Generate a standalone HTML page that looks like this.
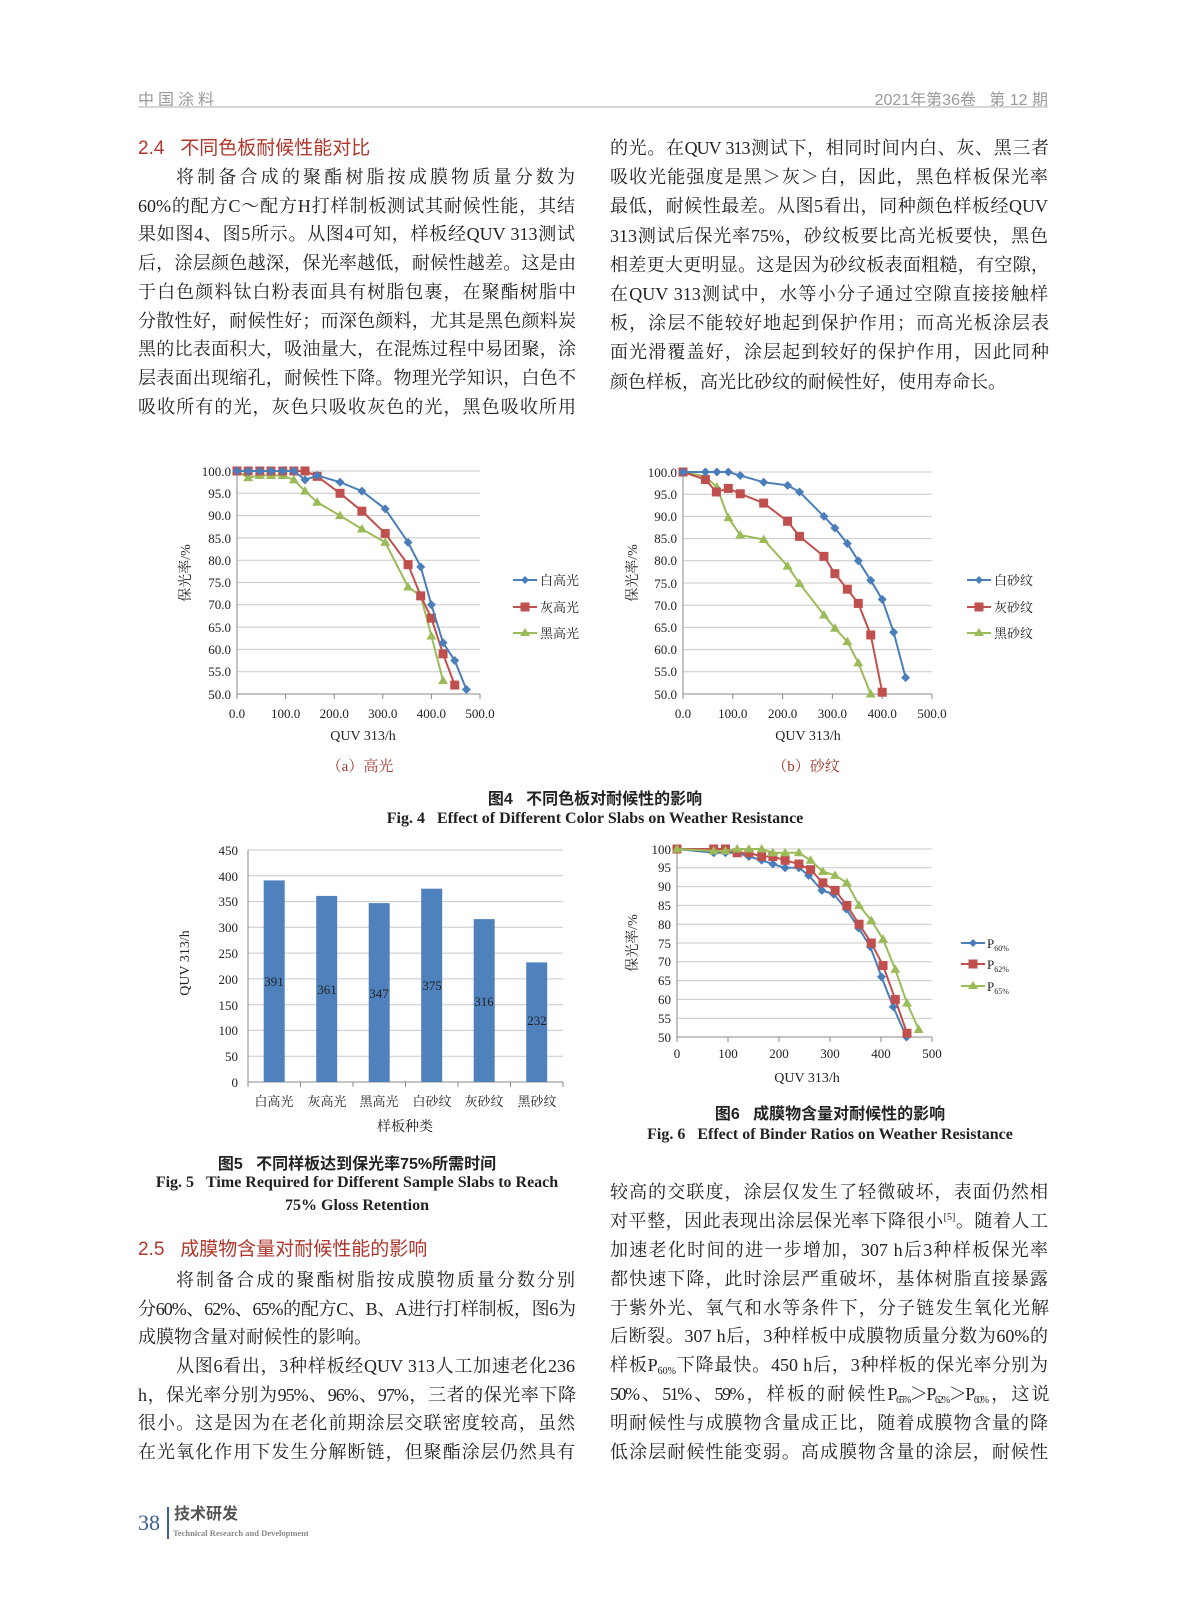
<!DOCTYPE html>
<html><head><meta charset="utf-8">
<style>
body{margin:0;background:#fff;}
#pg{position:relative;width:1187px;height:1600px;overflow:hidden;background:#fff;font-family:"Liberation Serif","Noto Serif CJK SC",serif;color:#222;}
.l{position:absolute;height:28px;line-height:28px;font-size:18px;white-space:nowrap;text-align:justify;text-align-last:justify;}
.L{left:138px;width:437px;}
.R{left:610px;width:438px;}
.nj{text-align-last:left;}
.t{letter-spacing:-1px;}
.h{position:absolute;font-family:"Liberation Sans","Noto Sans CJK SC",sans-serif;color:#b0362b;font-size:19px;line-height:24px;white-space:nowrap;}
.c{position:absolute;white-space:nowrap;transform:translateX(-50%);}
.cap{font-family:"Liberation Sans","Noto Sans CJK SC",sans-serif;font-weight:bold;font-size:16px;}
.capE{font-family:"Liberation Serif",serif;font-weight:bold;font-size:16px;}
sub{font-size:10px;vertical-align:-3px;line-height:0}
svg text{font-family:"Liberation Serif","Noto Serif CJK SC",serif;fill:#222;}
</style></head><body><div id="pg">
<div style="position:absolute;left:138px;top:86px;font-family:'Liberation Sans','Noto Sans CJK SC',sans-serif;font-size:16px;color:#999;letter-spacing:4px;">中国涂料</div>
<div style="position:absolute;right:139px;top:86px;font-family:'Liberation Sans','Noto Sans CJK SC',sans-serif;font-size:16px;color:#999;">2021年第36卷&nbsp;&nbsp;&nbsp;第 12 期</div>
<div style="position:absolute;left:138px;top:106px;width:910px;height:2px;background:#d6d6d6;"></div>

<div class="h" style="left:138px;top:137px;">2.4&nbsp;&nbsp;&nbsp;不同色板耐候性能对比</div>
<div class="l L" style="top:163px;padding-left:38px;width:399px;">将制备合成的聚酯树脂按成膜物质量分数为</div>
<div class="l L" style="top:192px;">60%的配方C～配方H打样制板测试其耐候性能，其结</div>
<div class="l L" style="top:220px;">果如图4、图5所示。从图4可知，样板经QUV 313测试</div>
<div class="l L t" style="top:249px;">后，涂层颜色越深，保光率越低，耐候性越差。这是由</div>
<div class="l L t" style="top:278px;">于白色颜料钛白粉表面具有树脂包裹，在聚酯树脂中</div>
<div class="l L t" style="top:307px;">分散性好，耐候性好；而深色颜料，尤其是黑色颜料炭</div>
<div class="l L t" style="top:335px;">黑的比表面积大，吸油量大，在混炼过程中易团聚，涂</div>
<div class="l L t" style="top:364px;">层表面出现缩孔，耐候性下降。物理光学知识，白色不</div>
<div class="l L t" style="top:393px;">吸收所有的光，灰色只吸收灰色的光，黑色吸收所用</div>

<div class="l R t" style="top:134px;">的光。在QUV 313测试下，相同时间内白、灰、黑三者</div>
<div class="l R" style="top:163px;">吸收光能强度是黑＞灰＞白，因此，黑色样板保光率</div>
<div class="l R" style="top:192px;">最低，耐候性最差。从图5看出，同种颜色样板经QUV</div>
<div class="l R" style="top:222px;">313测试后保光率75%，砂纹板要比高光板要快，黑色</div>
<div class="l R t" style="top:251px;">相差更大更明显。这是因为砂纹板表面粗糙，有空隙，</div>
<div class="l R" style="top:280px;">在QUV 313测试中，水等小分子通过空隙直接接触样</div>
<div class="l R t" style="top:309px;">板，涂层不能较好地起到保护作用；而高光板涂层表</div>
<div class="l R t" style="top:338px;">面光滑覆盖好，涂层起到较好的保护作用，因此同种</div>
<div class="l R nj" style="top:368px;">颜色样板，高光比砂纹的耐候性好，使用寿命长。</div>

<svg style="position:absolute;left:0;top:0" width="1187" height="1600" id="sv">
<g stroke="#c8c8c8" stroke-width="1">
<line x1="237" x2="480" y1="471" y2="471"/><line x1="237" x2="480" y1="493.3" y2="493.3"/><line x1="237" x2="480" y1="515.6" y2="515.6"/><line x1="237" x2="480" y1="537.9" y2="537.9"/><line x1="237" x2="480" y1="560.2" y2="560.2"/><line x1="237" x2="480" y1="582.5" y2="582.5"/><line x1="237" x2="480" y1="604.8" y2="604.8"/><line x1="237" x2="480" y1="627.1" y2="627.1"/><line x1="237" x2="480" y1="649.4" y2="649.4"/><line x1="237" x2="480" y1="671.7" y2="671.7"/>
<line x1="683" x2="932" y1="472" y2="472"/><line x1="683" x2="932" y1="494.2" y2="494.2"/><line x1="683" x2="932" y1="516.4" y2="516.4"/><line x1="683" x2="932" y1="538.6" y2="538.6"/><line x1="683" x2="932" y1="560.8" y2="560.8"/><line x1="683" x2="932" y1="583" y2="583"/><line x1="683" x2="932" y1="605.2" y2="605.2"/><line x1="683" x2="932" y1="627.4" y2="627.4"/><line x1="683" x2="932" y1="649.6" y2="649.6"/><line x1="683" x2="932" y1="671.8" y2="671.8"/>
<line x1="677" x2="932" y1="849" y2="849"/><line x1="677" x2="932" y1="867.8" y2="867.8"/><line x1="677" x2="932" y1="886.6" y2="886.6"/><line x1="677" x2="932" y1="905.4" y2="905.4"/><line x1="677" x2="932" y1="924.2" y2="924.2"/><line x1="677" x2="932" y1="943" y2="943"/><line x1="677" x2="932" y1="961.8" y2="961.8"/><line x1="677" x2="932" y1="980.6" y2="980.6"/><line x1="677" x2="932" y1="999.4" y2="999.4"/><line x1="677" x2="932" y1="1018.2" y2="1018.2"/>
<line x1="248" x2="563" y1="850" y2="850"/><line x1="248" x2="563" y1="875.8" y2="875.8"/><line x1="248" x2="563" y1="901.6" y2="901.6"/><line x1="248" x2="563" y1="927.3" y2="927.3"/><line x1="248" x2="563" y1="953.1" y2="953.1"/><line x1="248" x2="563" y1="978.9" y2="978.9"/><line x1="248" x2="563" y1="1004.7" y2="1004.7"/><line x1="248" x2="563" y1="1030.4" y2="1030.4"/><line x1="248" x2="563" y1="1056.2" y2="1056.2"/>
</g>
<g stroke="#888" stroke-width="1" fill="none">
<path d="M237 694H480M237 694v5M285.6 694v5M334.2 694v5M382.8 694v5M431.4 694v5M480 694v5M237 471V694"/>
<path d="M683 694H932M683 694v5M732.8 694v5M782.6 694v5M832.4 694v5M882.2 694v5M932 694v5M683 472V694"/>
<path d="M677 1037H932M677 1037v5M728 1037v5M779 1037v5M830 1037v5M881 1037v5M932 1037v5M677 849V1037"/>
<path d="M248 1082H563M248 850V1082M248 1082v5M300.5 1082v5M353 1082v5M405.5 1082v5M458 1082v5M510.5 1082v5M563 1082v5"/>
</g>
<g id="series"></g>
<g fill="#4f81bd">
<rect x="263.7" y="880.4" width="21" height="201.6"/>
<rect x="316.2" y="895.9" width="21" height="186.1"/>
<rect x="368.7" y="903.1" width="21" height="178.9"/>
<rect x="421.2" y="888.7" width="21" height="193.3"/>
<rect x="473.7" y="919.1" width="21" height="162.9"/>
<rect x="526.2" y="962.4" width="21" height="119.6"/>
</g>
<g font-size="13" text-anchor="middle">
<text x="274" y="986">391</text><text x="327" y="994">361</text><text x="379" y="998">347</text><text x="432" y="990">375</text><text x="484" y="1006">316</text><text x="537" y="1025">232</text>
</g>
<g font-size="13" text-anchor="end">
<text x="231" y="476">100.0</text><text x="231" y="498">95.0</text><text x="231" y="520">90.0</text><text x="231" y="543">85.0</text><text x="231" y="565">80.0</text><text x="231" y="587">75.0</text><text x="231" y="609">70.0</text><text x="231" y="632">65.0</text><text x="231" y="654">60.0</text><text x="231" y="676">55.0</text><text x="231" y="699">50.0</text>
<text x="677" y="477">100.0</text><text x="677" y="499">95.0</text><text x="677" y="521">90.0</text><text x="677" y="543">85.0</text><text x="677" y="565">80.0</text><text x="677" y="588">75.0</text><text x="677" y="610">70.0</text><text x="677" y="632">65.0</text><text x="677" y="654">60.0</text><text x="677" y="676">55.0</text><text x="677" y="699">50.0</text>
<text x="671" y="854">100</text><text x="671" y="872">95</text><text x="671" y="891">90</text><text x="671" y="910">85</text><text x="671" y="929">80</text><text x="671" y="948">75</text><text x="671" y="966">70</text><text x="671" y="985">65</text><text x="671" y="1004">60</text><text x="671" y="1023">55</text><text x="671" y="1042">50</text>
<text x="238" y="855">450</text><text x="238" y="881">400</text><text x="238" y="906">350</text><text x="238" y="932">300</text><text x="238" y="958">250</text><text x="238" y="984">200</text><text x="238" y="1010">150</text><text x="238" y="1035">100</text><text x="238" y="1061">50</text><text x="238" y="1087">0</text>
</g>
<g font-size="13" text-anchor="middle">
<text x="237" y="718">0.0</text><text x="285.6" y="718">100.0</text><text x="334.2" y="718">200.0</text><text x="382.8" y="718">300.0</text><text x="431.4" y="718">400.0</text><text x="480" y="718">500.0</text>
<text x="683" y="718">0.0</text><text x="732.8" y="718">100.0</text><text x="782.6" y="718">200.0</text><text x="832.4" y="718">300.0</text><text x="882.2" y="718">400.0</text><text x="932" y="718">500.0</text>
<text x="677" y="1058">0</text><text x="728" y="1058">100</text><text x="779" y="1058">200</text><text x="830" y="1058">300</text><text x="881" y="1058">400</text><text x="932" y="1058">500</text>
<text x="274" y="1106">白高光</text><text x="327" y="1106">灰高光</text><text x="379" y="1106">黑高光</text><text x="432" y="1106">白砂纹</text><text x="484" y="1106">灰砂纹</text><text x="537" y="1106">黑砂纹</text>
</g>
<g font-size="14" text-anchor="middle">
<text x="363" y="740">QUV 313/h</text><text x="808" y="740">QUV 313/h</text><text x="807" y="1082">QUV 313/h</text><text x="405" y="1131">样板种类</text>
<text transform="translate(190,573) rotate(-90)">保光率/%</text>
<text transform="translate(637,573) rotate(-90)">保光率/%</text>
<text transform="translate(637,943) rotate(-90)">保光率/%</text>
<text transform="translate(189,963) rotate(-90)">QUV 313/h</text>
</g>
<g stroke-width="2">
<line x1="513" x2="537" y1="580" y2="580" stroke="#4a7ebb"/><line x1="513" x2="537" y1="607" y2="607" stroke="#c0504d"/><line x1="513" x2="537" y1="633" y2="633" stroke="#9bbb59"/>
<line x1="967" x2="991" y1="580" y2="580" stroke="#4a7ebb"/><line x1="967" x2="991" y1="607" y2="607" stroke="#c0504d"/><line x1="967" x2="991" y1="633" y2="633" stroke="#9bbb59"/>
<line x1="961" x2="985" y1="943" y2="943" stroke="#4a7ebb"/><line x1="961" x2="985" y1="964" y2="964" stroke="#c0504d"/><line x1="961" x2="985" y1="986" y2="986" stroke="#9bbb59"/>
</g>
<path d="M525 576l4 4-4 4-4-4z M979 576l4 4-4 4-4-4z M973 939l4 4-4 4-4-4z" fill="#4a7ebb"/>
<path d="M520.5 602.5h9v9h-9z M974.5 602.5h9v9h-9z M968.5 959.5h9v9h-9z" fill="#c0504d"/>
<path d="M525 628l5 8h-10z M979 628l5 8h-10z M973 981l5 8h-10z" fill="#9bbb59"/>
<g font-size="13">
<text x="540" y="585">白高光</text><text x="540" y="612">灰高光</text><text x="540" y="638">黑高光</text>
<text x="994" y="585">白砂纹</text><text x="994" y="612">灰砂纹</text><text x="994" y="638">黑砂纹</text>
<text x="987" y="948">P<tspan font-size="8" dy="3">60%</tspan></text><text x="987" y="969">P<tspan font-size="8" dy="3">62%</tspan></text><text x="987" y="991">P<tspan font-size="8" dy="3">65%</tspan></text>
</g>
</svg>

<div class="c" style="left:360px;top:755px;font-size:15px;color:#a0392d;font-family:'Liberation Serif','Noto Serif CJK SC',serif;">（a）高光</div>
<div class="c" style="left:806px;top:755px;font-size:15px;color:#a0392d;font-family:'Liberation Serif','Noto Serif CJK SC',serif;">（b）砂纹</div>
<div class="c cap" style="left:595px;top:785px;">图4&nbsp;&nbsp;&nbsp;不同色板对耐候性的影响</div>
<div class="c capE" style="left:595px;top:810px;">Fig. 4&nbsp;&nbsp;&nbsp;Effect of Different Color Slabs on Weather Resistance</div>
<div class="c cap" style="left:830px;top:1100px;">图6&nbsp;&nbsp;&nbsp;成膜物含量对耐候性的影响</div>
<div class="c capE" style="left:830px;top:1126px;">Fig. 6&nbsp;&nbsp;&nbsp;Effect of Binder Ratios on Weather Resistance</div>
<div class="c cap" style="left:357px;top:1150px;">图5&nbsp;&nbsp;&nbsp;不同样板达到保光率75%所需时间</div>
<div class="c capE" style="left:357px;top:1174px;">Fig. 5&nbsp;&nbsp;&nbsp;Time Required for Different Sample Slabs to Reach</div>
<div class="c capE" style="left:357px;top:1197px;">75% Gloss Retention</div>

<div class="h" style="left:138px;top:1238px;">2.5&nbsp;&nbsp;&nbsp;成膜物含量对耐候性能的影响</div>
<div class="l L" style="top:1266px;padding-left:38px;width:399px;">将制备合成的聚酯树脂按成膜物质量分数分别</div>
<div class="l L t" style="top:1295px;">分60%、62%、65%的配方C、B、A进行打样制板，图6为</div>
<div class="l L nj" style="top:1323px;">成膜物含量对耐候性的影响。</div>
<div class="l L" style="top:1352px;padding-left:38px;width:399px;">从图6看出，3种样板经QUV 313人工加速老化236</div>
<div class="l L t" style="top:1381px;">h，保光率分别为95%、96%、97%，三者的保光率下降</div>
<div class="l L" style="top:1409px;">很小。这是因为在老化前期涂层交联密度较高，虽然</div>
<div class="l L" style="top:1438px;">在光氧化作用下发生分解断链，但聚酯涂层仍然具有</div>

<div class="l R" style="top:1178px;">较高的交联度，涂层仅发生了轻微破坏，表面仍然相</div>
<div class="l R" style="top:1207px;">对平整，因此表现出涂层保光率下降很小<sup style="font-size:10px;line-height:0">[5]</sup>。随着人工</div>
<div class="l R" style="top:1236px;">加速老化时间的进一步增加，307 h后3种样板保光率</div>
<div class="l R" style="top:1265px;">都快速下降，此时涂层严重破坏，基体树脂直接暴露</div>
<div class="l R t" style="top:1294px;">于紫外光、氧气和水等条件下，分子链发生氧化光解</div>
<div class="l R" style="top:1322px;">后断裂。307 h后，3种样板中成膜物质量分数为60%的</div>
<div class="l R" style="top:1351px;">样板P<sub>60%</sub>下降最快。450 h后，3种样板的保光率分别为</div>
<div class="l R t" style="top:1380px;letter-spacing:-1.5px;">50%、51%、59%，样板的耐候性P<sub>65%</sub>＞P<sub>62%</sub>＞P<sub>60%</sub>，这说</div>
<div class="l R" style="top:1409px;">明耐候性与成膜物含量成正比，随着成膜物含量的降</div>
<div class="l R" style="top:1438px;">低涂层耐候性能变弱。高成膜物含量的涂层，耐候性</div>

<div style="position:absolute;left:138px;top:1510px;font-size:22px;color:#3d5f93;line-height:26px;">38</div>
<div style="position:absolute;left:167px;top:1507px;width:2px;height:32px;background:#3d5f93;"></div>
<div style="position:absolute;left:174px;top:1504px;font-family:'Liberation Sans','Noto Sans CJK SC',sans-serif;font-weight:bold;font-size:16px;color:#555;line-height:22px;">技术研发</div>
<div style="position:absolute;left:173px;top:1528px;font-size:8.5px;color:#888;font-weight:bold;">Technical Research and Development</div>
</div>
<script>
(function(){
var g=document.getElementById('series'),NS='http://www.w3.org/2000/svg';
function ch(x0,x500,y100,y50,series){
 series.forEach(function(s){
  var pts=s.d.map(function(p){return [x0+(x500-x0)*p[0]/500, y100+(y50-y100)*(100-p[1])/50];});
  var pl=document.createElementNS(NS,'polyline');
  pl.setAttribute('points',pts.map(function(p){return p.join(',')}).join(' '));
  pl.setAttribute('fill','none');pl.setAttribute('stroke',s.c);pl.setAttribute('stroke-width','2');
  g.appendChild(pl);
  pts.forEach(function(p){
   var m=document.createElementNS(NS,'path'),x=p[0],y=p[1],d;
   if(s.m=='d')d='M'+x+' '+(y-4.5)+'l4.5 4.5-4.5 4.5-4.5-4.5z';
   else if(s.m=='s')d='M'+(x-4.5)+' '+(y-4.5)+'h9v9h-9z';
   else d='M'+x+' '+(y-5)+'l5 8.5h-10z';
   m.setAttribute('d',d);m.setAttribute('fill',s.c);g.appendChild(m);
  });
 });
}
var B='#4a7ebb',R='#c0504d',G='#9bbb59';
ch(237,480,471,694,[
 {c:G,m:'t',d:[[0,100],[23,98.5],[47,99],[70,99],[94,99],[117,98],[140,95.5],[165,93],[212,90],[257,87],[305,84],[352,74],[378,72],[400,63],[424,53]]},
 {c:R,m:'s',d:[[0,100],[23,100],[47,100],[70,100],[94,100],[117,100],[140,100],[165,98.8],[212,95],[257,91],[305,86],[352,79],[378,72],[400,67],[424,59],[448,52]]},
 {c:B,m:'d',d:[[0,100],[23,100],[47,100],[70,100],[94,100],[117,100],[140,98],[165,99],[212,97.5],[257,95.5],[305,91.5],[352,84],[378,78.5],[400,70],[424,61.5],[448,57.5],[472,51]]}
]);
ch(683,932,472,694,[
 {c:G,m:'t',d:[[0,100],[45,99],[68,96.6],[91,89.7],[115,85.8],[162,84.8],[210,78.8],[234,74.9],[283,67.8],[305,64.8],[330,61.8],[352,57],[377,50]]},
 {c:R,m:'s',d:[[0,100],[45,98.3],[67,95.5],[91,96.3],[115,95.1],[162,93],[210,88.9],[234,85.5],[283,81],[305,77.1],[330,73.6],[352,70.4],[377,63.3],[400,50.4]]},
 {c:B,m:'d',d:[[0,100],[45,100],[68,100],[91,100],[115,99.2],[162,97.7],[210,97],[234,95.5],[283,90],[305,87.4],[330,83.9],[352,80],[377,75.6],[400,71.3],[423,63.9],[447,53.7]]}
]);
ch(677,932,849,1037,[
 {c:B,m:'d',d:[[0,100],[72,99],[95,99],[118,99],[141,98],[166,97],[188,96],[212,95],[239,95],[258,93],[284,89],[307,88],[332,84],[356,79],[379,74],[401,66],[424,58],[450,50]]},
 {c:R,m:'s',d:[[0,100],[72,100],[95,100],[118,99],[141,99],[166,98],[188,98],[212,97],[239,96],[262,94.5],[286,91],[310,89],[333,85],[357,80],[381,75],[404,69],[428,60],[451,51]]},
 {c:G,m:'t',d:[[0,100],[72,99.5],[95,99.5],[118,100],[141,100],[166,100],[188,99],[212,99],[239,99],[262,97],[286,94],[310,93],[333,91],[357,85],[381,81],[404,76],[428,68],[451,59],[474,52]]}
]);
})();
</script>
</body></html>
